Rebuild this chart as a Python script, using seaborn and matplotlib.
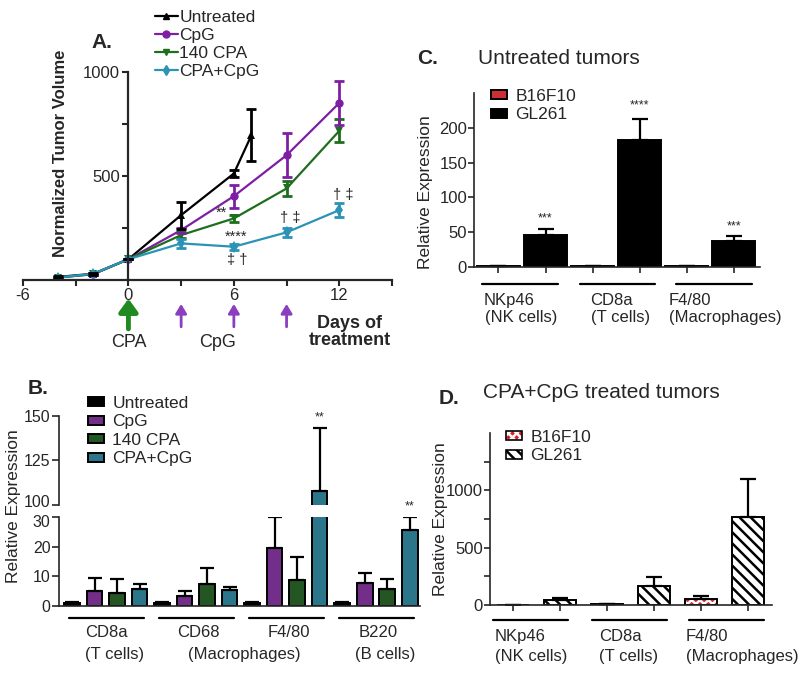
import numpy as np
import pandas as pd
import seaborn as sns
import matplotlib.pyplot as plt
from matplotlib.patches import Patch, Rectangle
from matplotlib.lines import Line2D
from matplotlib.transforms import ScaledTranslation

# ---- panel A: tumour volume over time ----
groups = ["Untreated", "CpG", "140 CPA", "CPA+CpG"]
days_untreated = [-4, -2, 0, 3, 6, 7]
vol_untreated = [15, 30, 100, 312, 512, 696]
err_untreated = [5, 5, 0, 65, 15, 125]
days_treated = [-4, -2, 0, 3, 6, 9, 12]
vol_cpg = [12, 28, 100, 240, 403, 600, 851]
err_cpg = [4, 5, 0, 12, 55, 105, 108]
vol_cpa = [12, 28, 100, 216, 296, 440, 717]
err_cpa = [4, 5, 0, 15, 15, 35, 55]
vol_combo = [12, 30, 100, 176, 160, 229, 336]
err_combo = [4, 5, 0, 20, 15, 20, 35]

# ---- panel B: immune markers by treatment ----
markers_b = ["CD8a", "CD68", "F4/80", "B220"]
b_untreated = [1.0, 1.0, 1.0, 1.0]
b_untreated_err = [0.4, 0.3, 0.5, 0.4]
b_cpg = [5.2, 3.5, 19.5, 7.7]
b_cpg_err = [4.1, 1.5, 10.5, 3.3]
b_cpa = [4.3, 7.5, 8.8, 5.8]
b_cpa_err = [4.9, 5.3, 7.7, 3.4]
b_combo = [5.7, 5.5, 108, 25.5]
b_combo_err = [1.8, 0.8, 35, 4.5]

# ---- panels C and D: B16F10 vs GL261 ----
lines_cd = ["B16F10", "GL261"]
markers_cd = ["NKp46", "CD8a", "F4/80"]
cells_cd = ["(NK cells)", "(T cells)", "(Macrophages)"]
c_b16 = [1, 1, 1]
c_b16_err = [0.2, 0.2, 0.2]
c_gl261 = [46, 183, 37]
c_gl261_err = [9, 29, 7]
d_b16 = [3, 8, 52]
d_b16_err = [1, 3, 26]
d_gl261 = [45, 165, 765]
d_gl261_err = [16, 78, 330]

sns.set_style("ticks")
plt.rcParams["font.family"] = ["Liberation Sans", "DejaVu Sans"]
plt.rcParams["hatch.linewidth"] = 1.8
plt.rcParams["axes.linewidth"] = 1.2
plt.rcParams["axes.unicode_minus"] = False

W, H = 800, 675


def box(x0, y0, x1, y1):
    return [x0 / W, 1 - y1 / H, (x1 - x0) / W, (y1 - y0) / H]


def bar_errors(ax, bars, errs, capsize=5):
    for cont, e in zip(bars, errs):
        for bar, err in zip(cont, e):
            x = bar.get_x() + bar.get_width() / 2
            ax.errorbar(x, bar.get_height(), yerr=[[0], [err]], fmt="none", ecolor="black",
                        elinewidth=1.6, capsize=capsize, capthick=1.6, zorder=1)


def group_labels(ax, y_line, y1, y2, spans, firsts, seconds, ha="left"):
    tr = ax.get_xaxis_transform()
    for (a, b) in spans:
        ax.plot([a, b], [y_line, y_line], color="black", lw=1.6, transform=tr, clip_on=False)
    for x, t in firsts:
        ax.text(x, y1, t, transform=tr, ha=ha, va="center", fontsize=12)
    for x, t in seconds:
        ax.text(x, y2, t, transform=tr, ha=ha, va="center", fontsize=12)


leg_kw = dict(frameon=False, fontsize=12.5, handlelength=0.9, handleheight=0.4, labelspacing=0.2,
              handletextpad=0.5, borderaxespad=0)

fig = plt.figure(figsize=(8, 6.75), dpi=100)

# ================= A =================
axA = fig.add_axes(box(23, 72, 392, 280))
colors_a = {"Untreated": "black", "CpG": "#7e1fa3", "140 CPA": "#1e6e1e", "CPA+CpG": "#2b93b6"}
marks_a = {"Untreated": "^", "CpG": "o", "140 CPA": "v", "CPA+CpG": "d"}
dfA = pd.concat([
    pd.DataFrame({"day": days_untreated, "vol": vol_untreated, "err": err_untreated, "group": "Untreated"}),
    pd.DataFrame({"day": days_treated, "vol": vol_cpg, "err": err_cpg, "group": "CpG"}),
    pd.DataFrame({"day": days_treated, "vol": vol_cpa, "err": err_cpa, "group": "140 CPA"}),
    pd.DataFrame({"day": days_treated, "vol": vol_combo, "err": err_combo, "group": "CPA+CpG"}),
])
sns.lineplot(data=dfA, x="day", y="vol", hue="group", style="group", markers=marks_a, dashes=False,
             palette=colors_a, ax=axA, legend=False, errorbar=None, lw=1.6, markersize=6,
             markeredgewidth=0)
for g, sub in dfA.groupby("group"):
    axA.errorbar(sub["day"], sub["vol"], yerr=sub["err"], fmt="none", ecolor=colors_a[g],
                 elinewidth=2, capsize=3.5, capthick=2)
axA.set_xlim(-6, 15)
axA.set_ylim(0, 1000)
axA.spines["left"].set_position(("data", 0))
axA.spines["top"].set_visible(False)
axA.spines["right"].set_visible(False)
axA.spines["left"].set_linewidth(1.6)
axA.spines["bottom"].set_linewidth(1.6)
axA.set_xticks([-6, 0, 6, 12])
axA.set_xticks([-3, 3, 9, 15], minor=True)
axA.set_yticks([500, 1000])
axA.set_yticks([250, 750], minor=True)
axA.tick_params(which="both", length=4, width=1.5, labelsize=12, pad=2)
axA.set_xlabel("")
axA.set_ylabel("Normalized Tumor Volume", fontsize=12, weight="bold")
axA.yaxis.set_label_coords(0.122, 0.61)

for x, y, t in [(5.3, 322, "**"), (6.15, 207, "****"), (6.2, 96, "‡ †"), (9.2, 298, "† ‡"), (12.2, 409, "† ‡")]:
    axA.text(x, y, t, ha="center", va="center", fontsize=10.5)

trA = axA.get_xaxis_transform()
axA.annotate("", xy=(0, -0.09), xytext=(0, -0.235), xycoords=trA, textcoords=trA,
             arrowprops=dict(arrowstyle="-|>,head_width=0.4,head_length=0.55", color="#1f8a1f",
                             lw=3.5, mutation_scale=14, shrinkA=0, shrinkB=0))
for d in [3, 6, 9]:
    axA.annotate("", xy=(d, -0.115), xytext=(d, -0.225), xycoords=trA, textcoords=trA,
                 arrowprops=dict(arrowstyle="-|>,head_width=0.3,head_length=0.5", color="#8a3fc0",
                                 lw=2, mutation_scale=11, shrinkA=0, shrinkB=0))
axA.text(0, -0.3, "CPA", transform=trA, ha="center", va="center", fontsize=13)
axA.text(5.1, -0.3, "CpG", transform=trA, ha="center", va="center", fontsize=13)
axA.text(12.6, -0.25, "Days of\ntreatment", transform=trA, ha="center", va="center",
         fontsize=13, weight="bold", linespacing=1.0)

handles_a = [Line2D([], [], color=colors_a[g], marker=marks_a[g], markersize=5, lw=1.6) for g in groups]
fig.legend(handles_a, groups, loc="upper left", bbox_to_anchor=(148 / W, 1 - 3 / H), frameon=False,
           fontsize=12.5, handlelength=1.3, handletextpad=0.1, labelspacing=0.17, borderaxespad=0)
fig.text(91 / W, 1 - 43 / H, "A.", fontsize=15, weight="bold", va="center")

# ================= B =================
pal_b = ["black", "#7a1f99", "#1b5e1b", "#1c7f9c"]
dfB = pd.DataFrame({
    "marker": markers_b * 4,
    "group": np.repeat(groups, 4),
    "value": b_untreated + b_cpg + b_cpa + b_combo,
})
errs_b = [b_untreated_err, b_cpg_err, b_cpa_err, b_combo_err]
axB_top = fig.add_axes(box(59, 416, 420, 505))
axB_bot = fig.add_axes(box(59, 517, 420, 606))
for ax in (axB_top, axB_bot):
    sns.barplot(data=dfB, x="marker", y="value", hue="group", palette=pal_b, width=1.0, gap=0.3,
                edgecolor="black", linewidth=1.4, errorbar=None, ax=ax)
    bar_errors(ax, list(ax.containers[:4]), errs_b, capsize=5)
    ax.set_xlim(-0.52, 3.49)
    ax.set_xlabel("")
    ax.set_ylabel("")
    ax.spines["top"].set_visible(False)
    ax.spines["right"].set_visible(False)
    ax.tick_params(axis="y", labelsize=11.5, length=5, width=1.2, pad=1)
handles_b, labels_b = axB_bot.get_legend_handles_labels()
axB_top.get_legend().remove()
axB_bot.get_legend().remove()
axB_top.set_ylim(100, 150)
axB_top.set_yticks([100, 125, 150])
axB_top.spines["bottom"].set_visible(False)
axB_top.tick_params(axis="x", bottom=False, labelbottom=False)
axB_bot.set_ylim(0, 30)
axB_bot.set_yticks([0, 10, 20, 30])
axB_bot.tick_params(axis="x", length=0, labelbottom=False)
# nudge the two labels either side of the axis break apart a little
lab100 = axB_top.get_yticklabels()[0]
lab100.set_transform(lab100.get_transform() + ScaledTranslation(0, 3 / 72, fig.dpi_scale_trans))
lab30 = axB_bot.get_yticklabels()[-1]
lab30.set_transform(lab30.get_transform() + ScaledTranslation(0, -3 / 72, fig.dpi_scale_trans))

f480 = axB_top.containers[3][2]
axB_top.text(f480.get_x() + f480.get_width() / 2, 149, "**", ha="center", va="center", fontsize=9)
b220 = axB_bot.containers[3][3]
axB_bot.text(b220.get_x() + b220.get_width() / 2, 33.4, "**", ha="center", va="center", fontsize=9,
             clip_on=False)

group_labels(axB_bot, -0.135, -0.3, -0.55,
             [(i - 0.41, i + 0.42) for i in range(4)],
             [(0.01, "CD8a"), (1.03, "CD68"), (2.03, "F4/80"), (3.02, "B220")],
             [(0.1, "(T cells)"), (1.54, "(Macrophages)"), (3.1, "(B cells)")], ha="center")
fig.text(14 / W, 1 - 506 / H, "Relative Expression", rotation=90, ha="center", va="center", fontsize=12.5)
fig.legend(handles_b, labels_b, loc="upper left", bbox_to_anchor=(81 / W, 1 - 389 / H), **leg_kw)
fig.text(28 / W, 1 - 388 / H, "B.", fontsize=15, weight="bold", va="center")

# ================= C =================
dfC = pd.DataFrame({"marker": markers_cd * 2, "line": np.repeat(lines_cd, 3), "value": c_b16 + c_gl261})
axC = fig.add_axes(box(474, 93, 760, 267))
sns.barplot(data=dfC, x="marker", y="value", hue="line", palette=["#e8141b", "black"], width=1.0, gap=0.1,
            edgecolor="black", linewidth=1.4, errorbar=None, ax=axC)
bars_c = list(axC.containers[:2])
bar_errors(axC, bars_c, [c_b16_err, c_gl261_err], capsize=6)
handles_c, labels_c = axC.get_legend_handles_labels()
axC.get_legend().remove()
axC.set_xlim(-0.51, 2.53)
axC.set_ylim(0, 250)
axC.set_yticks([0, 50, 100, 150, 200])
centers_c = sorted(b.get_x() + b.get_width() / 2 for c in bars_c for b in c)
axC.set_xticks(centers_c)
axC.set_xticklabels([])
axC.set_xlabel("")
axC.set_ylabel("Relative Expression", fontsize=12.5)
axC.yaxis.set_label_coords(-0.143, 0.43)
axC.spines["top"].set_visible(False)
axC.spines["right"].set_visible(False)
axC.tick_params(labelsize=12, length=4, width=1.2, pad=1)
for i, (y, t) in enumerate([(70, "***"), (232, "****"), (58, "***")]):
    b = bars_c[1][i]
    axC.text(b.get_x() + b.get_width() / 2, y, t, ha="center", va="center", fontsize=9)
group_labels(axC, -0.098, -0.19, -0.293,
             [(-0.43, 0.38), (0.62, 1.41), (1.64, 2.44)],
             [(-0.41, "NKp46"), (0.72, "CD8a"), (1.56, "F4/80")],
             [(-0.39, cells_cd[0]), (0.73, cells_cd[1]), (1.56, cells_cd[2])])
fig.legend(handles_c, labels_c, loc="upper left", bbox_to_anchor=(484 / W, 1 - 82 / H), **leg_kw)
fig.text(417 / W, 1 - 58 / H, "C.", fontsize=15, weight="bold", va="center")
fig.text(478 / W, 1 - 58 / H, "Untreated tumors", fontsize=15, va="center")

# ================= D =================
dfD = pd.DataFrame({"marker": markers_cd * 2, "line": np.repeat(lines_cd, 3), "value": d_b16 + d_gl261})
axD = fig.add_axes(box(490, 433, 772, 605))
sns.barplot(data=dfD, x="marker", y="value", hue="line", palette=["#e8141b", "white"], width=1.0, gap=0.32,
            edgecolor="black", linewidth=1.4, errorbar=None, ax=axD, legend=False)
bars_d = list(axD.containers[:2])
for bar in bars_d[0]:
    bar.set_hatch("xxxx")
    bar.set_edgecolor("white")
    bar.set_linewidth(0)
    axD.add_patch(Rectangle(bar.get_xy(), bar.get_width(), bar.get_height(), fill=False,
                            edgecolor="black", lw=1.4, zorder=bar.get_zorder() + 0.1))
for bar in bars_d[1]:
    bar.set_hatch("\\\\\\")
bar_errors(axD, bars_d, [d_b16_err, d_gl261_err], capsize=6)
axD.set_xlim(-0.49, 2.51)
axD.set_ylim(0, 1500)
axD.set_yticks([0, 500, 1000])
axD.set_yticks([250, 750, 1250], minor=True)
centers_d = sorted(b.get_x() + b.get_width() / 2 for c in bars_d for b in c)
axD.set_xticks(centers_d)
axD.set_xticklabels([])
axD.set_xlabel("")
axD.set_ylabel("Relative Expression", fontsize=12.5)
axD.yaxis.set_label_coords(-0.148, 0.5)
axD.spines["top"].set_visible(False)
axD.spines["right"].set_visible(False)
axD.tick_params(which="both", labelsize=12, length=4, width=1.2, pad=1)
group_labels(axD, -0.087, -0.186, -0.302,
             [(-0.46, 0.34), (0.6, 1.39), (1.63, 2.43)],
             [(-0.44, "NKp46"), (0.67, "CD8a"), (1.59, "F4/80")],
             [(-0.44, cells_cd[0]), (0.67, cells_cd[1]), (1.59, cells_cd[2])])
handles_d = [(Patch(facecolor="#e8141b", edgecolor="white", hatch="xxxx", lw=0),
              Patch(facecolor="none", edgecolor="black", lw=1.2)),
             Patch(facecolor="white", edgecolor="black", hatch="\\\\\\", lw=1.2)]
fig.legend(handles_d, lines_cd, loc="upper left", bbox_to_anchor=(499 / W, 1 - 423 / H), **leg_kw)
fig.text(439 / W, 1 - 398 / H, "D.", fontsize=15, weight="bold", va="center")
fig.text(483 / W, 1 - 393 / H, "CPA+CpG treated tumors", fontsize=15, va="center")

fig.savefig("out.png", dpi=100)
